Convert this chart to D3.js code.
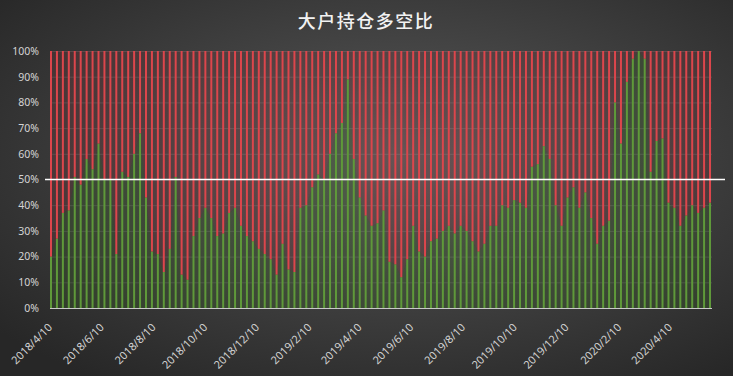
<!DOCTYPE html>
<html><head><meta charset="utf-8">
<script src="https://cdn.jsdelivr.net/npm/d3@7"></script>
<style>
html,body{margin:0;padding:0;background:#333;}
svg{display:block;}
</style></head>
<body>
<svg id="chart" width="733" height="376"></svg>
<script>
// ---- data ----
const title = "大户持仓多空比";
const startDate = "2018-04-10"; // first weekly observation
const longRatio = [
  20,27,37,38,51,48,58,54,64,50,
  50,21,53,51,60,68,43,22,21,14,
  23,51,13,11,28,35,39,35,28,29,
  37,39,32,28,26,23,21,19,13,25,
  15,14,39,40,47,52,50,60,68,72,
  89,58,43,36,32,33,38,18,17,12,
  19,32,22,20,26,27,30,32,29,32,
  30,26,22,25,32,32,40,39,42,41,
  39,55,56,63,58,40,32,43,47,39,
  45,35,25,32,34,80,64,88,97,100,
  97,53,65,66,41,39,32,36,40,37,
  39,41
];
const yTicks = [0,10,20,30,40,50,60,70,80,90,100];
const xTickLabels = ["2018/4/10","2018/6/10","2018/8/10","2018/10/10","2018/12/10","2019/2/10",
  "2019/4/10","2019/6/10","2019/8/10","2019/10/10","2019/12/10","2020/2/10","2020/4/10"];
const midLine = 50;

// ---- build ----
const W = 733, H = 376;
const svg = d3.select("#chart");
const parse = d3.timeParse("%Y-%m-%d");
const parseLbl = d3.timeParse("%Y/%m/%d");
const t0 = parse(startDate);
const rows = longRatio.map((v, i) => ({date: d3.timeDay.offset(t0, 7 * i), long: v, short: 100 - v}));

const defs = svg.append("defs");
const rg = defs.append("radialGradient").attr("id", "bg")
  .attr("cx", "55%").attr("cy", "42%").attr("r", "72%");
rg.append("stop").attr("offset", "0%").attr("stop-color", "#595959");
rg.append("stop").attr("offset", "100%").attr("stop-color", "#272727");
svg.append("rect").attr("width", W).attr("height", H).attr("fill", "url(#bg)");

const x = d3.scaleTime()
  .domain([parseLbl("2018/4/10"), parseLbl("2020/4/10")])
  .range([51, 671]);
const y = d3.scaleLinear().domain([0, 100]).range([308, 51]);

// gridlines
svg.append("g").selectAll("line").data(yTicks.filter(d => d > 0)).join("line")
  .attr("x1", 50).attr("x2", 712)
  .attr("y1", d => y(d) + 0.5).attr("y2", d => y(d) + 0.5)
  .attr("stroke", "rgba(255,255,255,0.12)").attr("stroke-width", 1);

// translucent areas
const areaG = d3.area().x(d => x(d.date)).y0(y(0)).y1(d => y(d.long));
const areaR = d3.area().x(d => x(d.date)).y0(d => y(d.long)).y1(y(100));
svg.append("path").datum(rows).attr("d", areaG).attr("fill", "#3f7a22").attr("fill-opacity", 0.2);
svg.append("path").datum(rows).attr("d", areaR).attr("fill", "#b83c40").attr("fill-opacity", 0.14);

// thin bars
const bw = 2;
const bars = svg.append("g");
bars.selectAll("rect.g").data(rows).join("rect").attr("class", "g")
  .attr("x", d => x(d.date) - bw / 2).attr("width", bw)
  .attr("y", d => y(d.long)).attr("height", d => y(0) - y(d.long))
  .attr("fill", "#5f993a");
bars.selectAll("rect.r").data(rows).join("rect").attr("class", "r")
  .attr("x", d => x(d.date) - bw / 2).attr("width", bw)
  .attr("y", y(100)).attr("height", d => y(d.long) - y(100))
  .attr("fill", "#dc464c");

// x axis line
svg.append("line").attr("x1", 50).attr("x2", 712).attr("y1", y(0) + 0.5).attr("y2", y(0) + 0.5)
  .attr("stroke", "#c8c8c8").attr("stroke-width", 1);

// 50% line
svg.append("line").attr("x1", 45).attr("x2", 725).attr("y1", y(midLine)).attr("y2", y(midLine))
  .attr("stroke", "#ffffff").attr("stroke-width", 1.6);

// y axis labels
const yAxis = d3.axisLeft(y).tickValues(yTicks).tickFormat(d => d + "%").tickSize(0).tickPadding(0);
const ya = svg.append("g").attr("transform", "translate(39,0)").call(yAxis);
ya.select(".domain").remove();
ya.selectAll("text").attr("fill", "#d4d4d4").style("font-family", "'Noto Sans', sans-serif").style("font-size", "10.5px");

// x axis labels
svg.append("g").selectAll("text").data(xTickLabels).join("text")
  .attr("transform", d => `translate(${x(parseLbl(d)) + 2},${328}) rotate(-45)`)
  .attr("text-anchor", "end")
  .attr("fill", "#d4d4d4")
  .style("font-family", "'Noto Sans', sans-serif").style("font-size", "11px")
  .text(d => d);

// title
svg.append("text").attr("x", 366).attr("y", 28).attr("text-anchor", "middle")
  .attr("fill", "#f2f2f2").style("font-family", "'Noto Sans CJK SC', sans-serif")
  .style("font-size", "18px").style("font-weight", "500").style("letter-spacing", "1.5px").text(title);
</script>
</body></html>
